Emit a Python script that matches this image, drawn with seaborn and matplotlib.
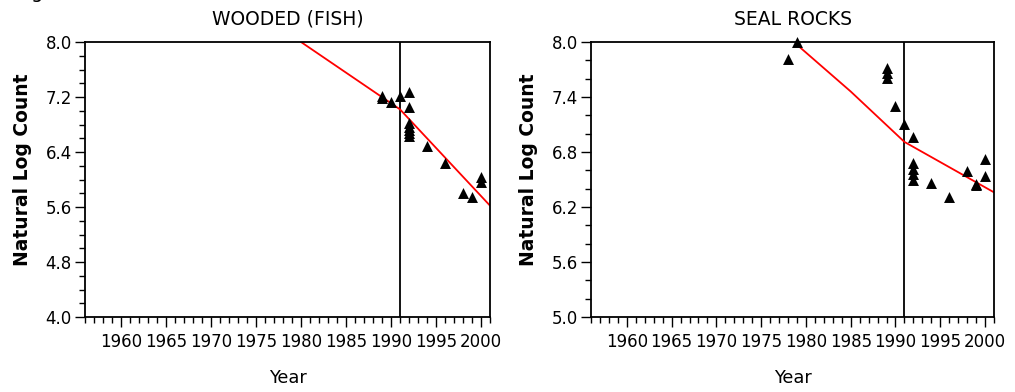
import numpy as np
import pandas as pd
import seaborn as sns
import matplotlib
matplotlib.use("Agg")
import matplotlib.pyplot as plt
from matplotlib.ticker import MultipleLocator, FormatStrFormatter

# ---------------- data ----------------
titles = ["WOODED (FISH)", "SEAL ROCKS"]

wooded_years = [1989, 1989, 1990, 1991, 1992, 1992, 1992, 1992, 1992, 1992, 1992,
                1994, 1996, 1998, 1999, 2000, 2000]
wooded_vals = [7.21, 7.19, 7.13, 7.21, 7.28, 7.06, 6.82, 6.77, 6.72, 6.67, 6.64,
               6.48, 6.24, 5.81, 5.75, 6.04, 5.97]
wooded_fit_years = [1980, 1991, 2001]
wooded_fit_vals = [8.0, 7.02, 5.62]

seal_years = [1978, 1979, 1989, 1989, 1989, 1990, 1991, 1992, 1992, 1992, 1992, 1992,
              1994, 1996, 1998, 1999, 1999, 2000, 2000]
seal_vals = [7.82, 8.0, 7.72, 7.66, 7.61, 7.30, 7.11, 6.96, 6.68, 6.62, 6.56, 6.50,
             6.46, 6.31, 6.59, 6.45, 6.44, 6.72, 6.54]
seal_fit_years = [1979, 1985, 1991, 2001]
seal_fit_vals = [7.97, 7.46, 6.91, 6.36]

event_year = 1991
x_range = (1956, 2001)
y_ranges = [(4.0, 8.0), (5.0, 8.0)]
y_major_steps = [0.8, 0.6]
x_tick_labels = [1960, 1965, 1970, 1975, 1980, 1985, 1990, 1995, 2000]

# ---------------- style ----------------
sns.set_theme(style="ticks")
plt.rcParams['font.family'] = ['DejaVu Sans']

fig = plt.figure(figsize=(10.15, 3.92), dpi=100)
W, H = 1015, 392
axes_px = [(85, 42, 490, 317), (591, 42, 994, 317)]

panels = [
    (wooded_years, wooded_vals, wooded_fit_years, wooded_fit_vals),
    (seal_years, seal_vals, seal_fit_years, seal_fit_vals),
]

for i, (ys, vs, fy, fv) in enumerate(panels):
    l, t, r, b = axes_px[i]
    ax = fig.add_axes([l / W, 1 - b / H, (r - l) / W, (b - t) / H])
    ax.set_facecolor("white")

    df = pd.DataFrame({"Year": ys, "val": vs})
    fit = pd.DataFrame({"Year": fy, "val": fv})

    ax.axvline(event_year, color="black", lw=1.3, zorder=1)
    sns.lineplot(data=fit, x="Year", y="val", color="red", lw=1.3, ax=ax, zorder=2)
    sns.scatterplot(data=df, x="Year", y="val", marker="^", color="black",
                    s=62, linewidth=0, ax=ax, zorder=3)
    for coll in ax.collections:
        coll.set_clip_on(False)

    ax.set_xlim(*x_range)
    ax.set_ylim(*y_ranges[i])
    ax.set_xticks(x_tick_labels)
    ax.set_xticklabels([str(v) for v in x_tick_labels])
    ax.xaxis.set_minor_locator(MultipleLocator(1))
    lo, hi = y_ranges[i]
    ax.set_yticks(np.round(np.arange(lo, hi + 1e-6, y_major_steps[i]), 2))
    ax.yaxis.set_minor_locator(MultipleLocator(0.2))
    ax.yaxis.set_major_formatter(FormatStrFormatter("%.1f"))

    ax.tick_params(axis="both", which="major", direction="out", length=7.5, width=1.0,
                   color="black", labelsize=12, labelcolor="black")
    ax.tick_params(axis="x", which="major", pad=4)
    ax.tick_params(axis="y", which="major", pad=2)
    ax.tick_params(axis="both", which="minor", direction="out", length=4.5, width=1.0,
                   color="black")

    for sp in ax.spines.values():
        sp.set_visible(True)
        sp.set_color("black")
        sp.set_linewidth(1.3)

    ax.set_title(titles[i], fontsize=13.5, pad=12.5, color="black")
    ax.set_xlabel("Year", fontsize=12.8, labelpad=13, color="black")
    ax.set_ylabel("Natural Log Count", fontsize=13.5, fontweight="bold", color="black")
    ax.yaxis.set_label_coords(-0.132, 0.535)
    ax.grid(False)

# cropped caption remnant at top-left (cut off in the reference as well)
fig.text(37 / W, 1 + 1.5 / H, "g", fontsize=14, ha="center", va="baseline", color="black")

fig.savefig("out.png", dpi=100, facecolor="white")
